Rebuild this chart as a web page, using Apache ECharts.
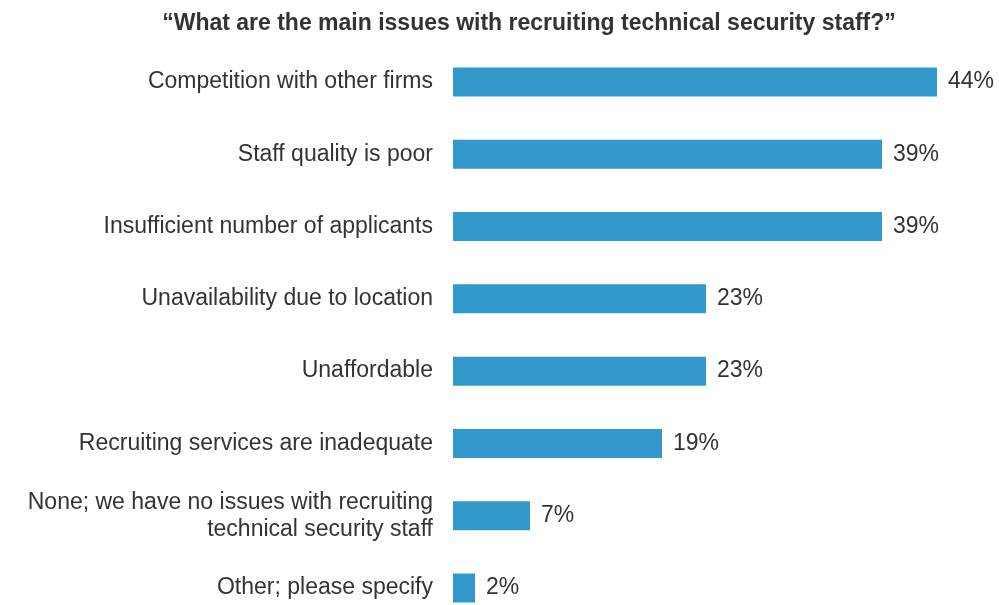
<!DOCTYPE html>
<html>
<head>
<meta charset="utf-8">
<script src="https://cdn.jsdelivr.net/npm/echarts@6/dist/echarts.min.js"></script>
<style>
  html, body { margin: 0; padding: 0; background: #ffffff; }
  #chart { width: 999px; height: 605px; }
</style>
</head>
<body>
<div id="chart"></div>
<script>
// Survey responses, listed top to bottom
const categories = [
  'Competition with other firms',
  'Staff quality is poor',
  'Insufficient number of applicants',
  'Unavailability due to location',
  'Unaffordable',
  'Recruiting services are inadequate',
  'None; we have no issues with recruiting\ntechnical security staff',
  'Other; please specify'
];
const shares = [44, 39, 39, 23, 23, 19, 7, 2];
const titleText = '\u201CWhat are the main issues with recruiting technical security staff?\u201D';

const chart = echarts.init(document.getElementById('chart'));
const font = "'Liberation Sans', Arial, sans-serif";

chart.setOption({
  animation: false,
  title: {
    text: titleText,
    left: 524,
    textAlign: 'center',
    top: 7,
    textStyle: { fontFamily: font, fontSize: 23, fontWeight: 'bold', color: '#333333' }
  },
  // categories sit on the grid edges (boundaryGap off), first row at the top edge
  grid: { left: 453, top: 82, width: 484, height: 506 },
  xAxis: {
    type: 'value',
    min: 0,
    max: 44,
    show: false
  },
  yAxis: {
    type: 'category',
    inverse: true,
    boundaryGap: false,
    data: categories,
    axisLine: { show: false },
    axisTick: { show: false },
    splitLine: { show: false },
    axisLabel: {
      margin: 20,
      fontFamily: font,
      fontSize: 23,
      lineHeight: 27,
      color: '#333333',
      align: 'right'
    }
  },
  series: [{
    type: 'bar',
    data: shares,
    barWidth: 29,
    itemStyle: { color: '#3399cc' },
    label: {
      show: true,
      position: 'right',
      distance: 11,
      formatter: '{c}%',
      fontFamily: font,
      fontSize: 23,
      color: '#333333'
    }
  }]
});
</script>
</body>
</html>
